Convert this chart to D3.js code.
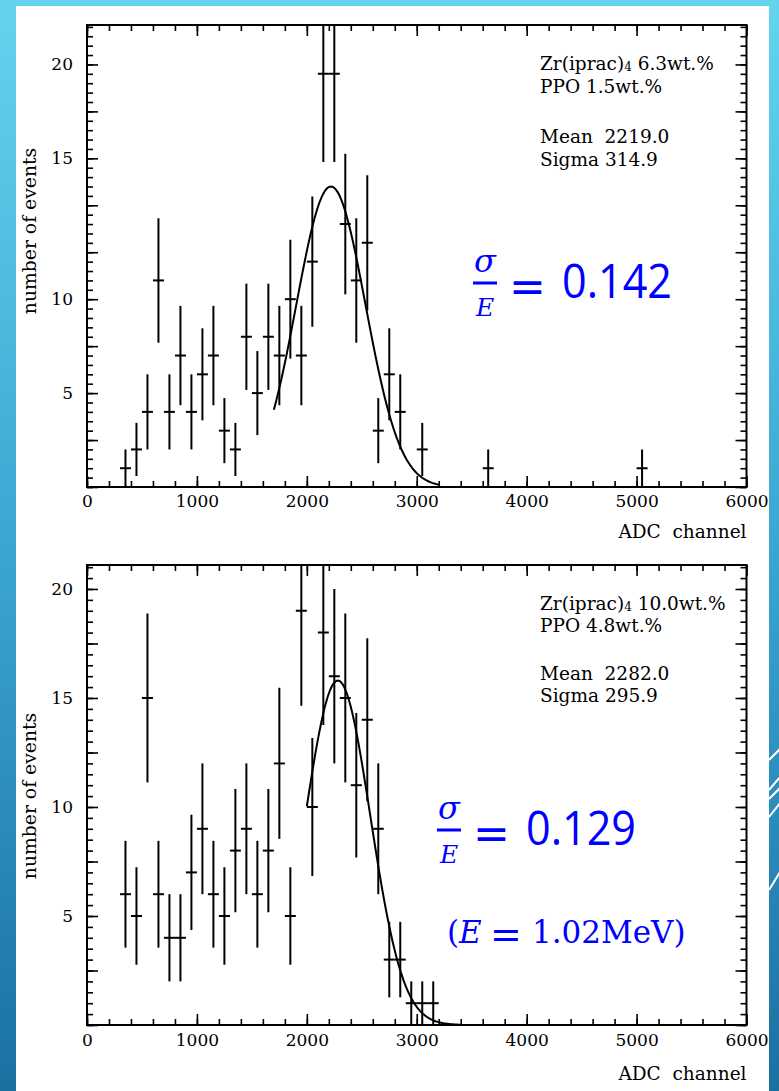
<!DOCTYPE html>
<html>
<head>
<meta charset="utf-8">
<script src="https://cdn.jsdelivr.net/npm/d3@7"></script>
<style>
  html, body { margin: 0; padding: 0; background: #fff; }
  svg { display: block; }
  text { white-space: pre; }
</style>
</head>
<body>
<svg id="slide" width="779" height="1091"></svg>
<script>
// ---- values ----
const binWidth = 100;   // ADC channels per bin
const xTickValues = [0, 1000, 2000, 3000, 4000, 5000, 6000];

// upper panel: Zr(iprac)4 6.3wt.%, PPO 1.5wt.%
const topBinCenters = [350, 450, 550, 650, 750, 850, 950, 1050, 1150, 1250, 1350, 1450, 1550, 1650,
                       1750, 1850, 1950, 2050, 2150, 2250, 2350, 2450, 2550, 2650, 2750, 2850, 3050, 3650, 5050];
const topCounts     = [1, 2, 4, 11, 4, 7, 4, 6, 7, 3, 2, 8, 5, 8,
                       7, 10, 7, 12, 22, 22, 14, 11, 13, 3, 6, 4, 2, 1, 1];
const topFitMean = 2219.0, topFitSigma = 314.9, topFitPeak = 16.0, topFitRange = [1700, 3200];
const topYMax = 24.6;
// the labels on this axis sit where they sit in the original figure
const topYTickValues = [5, 10, 17.5, 22.5];
const topYTickLabels = ['5', '10', '15', '20'];
const topInfo = [['Zr(iprac)', '4', ' 6.3wt.%'], ['PPO 1.5wt.%'], ['Mean  2219.0'], ['Sigma 314.9']];
const topRatio = '0.142';

// lower panel: Zr(iprac)4 10.0wt.%, PPO 4.8wt.%
const bottomBinCenters = [350, 450, 550, 650, 750, 850, 950, 1050, 1150, 1250, 1350, 1450, 1550, 1650, 1750,
                          1850, 1950, 2050, 2150, 2250, 2350, 2450, 2550, 2650, 2750, 2850, 2950, 3050, 3150];
const bottomCounts     = [6, 5, 15, 6, 4, 4, 7, 9, 6, 5, 8, 9, 6, 8, 12,
                          5, 19, 10, 18, 16, 15, 11, 14, 9, 3, 3, 1, 1, 1];
const bottomFitMean = 2282.0, bottomFitSigma = 295.9, bottomFitPeak = 15.8, bottomFitRange = [2000, 3400];
const bottomYMax = 21.1;
const bottomYTickValues = [5, 10, 15, 20];
const bottomYTickLabels = ['5', '10', '15', '20'];
const bottomInfo = [['Zr(iprac)', '4', ' 10.0wt.%'], ['PPO 4.8wt.%'], ['Mean  2282.0'], ['Sigma 295.9']];
const bottomRatio = '0.129';
const energyNote = '1.02MeV)';

const xTitle = 'ADC  channel';
const yTitle = 'number of events';

const serif = "'DejaVu Serif', serif";
const blue = '#0000ff';

const svg = d3.select('#slide');

// slide background
const defs = svg.append('defs');
const grad = defs.append('linearGradient').attr('id', 'bg')
    .attr('x1', 0).attr('y1', 0).attr('x2', 0).attr('y2', 1);
grad.append('stop').attr('offset', '0%').attr('stop-color', '#64d4ee');
grad.append('stop').attr('offset', '50%').attr('stop-color', '#3ba6d3');
grad.append('stop').attr('offset', '100%').attr('stop-color', '#1b70a2');
svg.append('rect').attr('width', 779).attr('height', 1091).attr('fill', 'url(#bg)');
svg.append('rect').attr('x', 16).attr('y', 6).attr('width', 753).attr('height', 1085).attr('fill', '#fff');
// white streaks on the right edge
[[760, 749], [790, 777], [799, 788], [817, 803], [890, 872]].forEach(([y1, y2]) => {
  svg.append('line').attr('x1', 769).attr('y1', y1).attr('x2', 780).attr('y2', y2)
      .attr('stroke', '#fff').attr('stroke-width', 2);
});

function drawPanel(p) {
  const f = p.frame;
  const x = d3.scaleLinear().domain([0, 6000]).range([f.left, f.right]);
  const y = d3.scaleLinear().domain([0, p.yMax]).range([f.bottom, f.top]);
  const g = svg.append('g');

  defs.append('clipPath').attr('id', p.id)
    .append('rect').attr('x', f.left).attr('y', f.top)
    .attr('width', f.right - f.left).attr('height', f.bottom - f.top);

  const xMinor = d3.range(0, 6001, 200), xMajor = d3.range(0, 6001, 1000);
  const yMinor = d3.range(0, p.yMax, 0.5), yMajor = d3.range(0, p.yMax, 2.5);

  const tickAxis = (axis, values, len) => axis.tickValues(values).tickSize(-len).tickFormat('');
  const addAxis = (axis, transform) => {
    g.append('g').attr('transform', transform).call(axis)
      .call(a => a.select('.domain').remove())
      .call(a => a.selectAll('line').attr('stroke', '#000').attr('stroke-width', 1.6));
  };
  addAxis(tickAxis(d3.axisBottom(x), xMinor, 6), `translate(0,${f.bottom})`);
  addAxis(tickAxis(d3.axisBottom(x), xMajor, 11), `translate(0,${f.bottom})`);
  addAxis(tickAxis(d3.axisTop(x), xMinor, 6), `translate(0,${f.top})`);
  addAxis(tickAxis(d3.axisTop(x), xMajor, 11), `translate(0,${f.top})`);
  addAxis(tickAxis(d3.axisLeft(y), yMinor, 6), `translate(${f.left},0)`);
  addAxis(tickAxis(d3.axisLeft(y), yMajor, 11), `translate(${f.left},0)`);
  addAxis(tickAxis(d3.axisRight(y), yMinor, 6), `translate(${f.right},0)`);
  addAxis(tickAxis(d3.axisRight(y), yMajor, 11), `translate(${f.right},0)`);

  // tick labels
  g.append('g').attr('transform', `translate(0,${f.bottom})`)
    .call(d3.axisBottom(x).tickValues(xTickValues).tickSize(0).tickPadding(p.xLabelPad).tickFormat(d3.format('d')))
    .call(a => a.select('.domain').remove())
    .attr('font-family', serif).attr('font-size', 17);
  g.append('g').attr('transform', `translate(${f.left},0)`)
    .call(d3.axisLeft(y).tickValues(p.yTickValues).tickSize(0).tickPadding(14)
      .tickFormat((d, i) => p.yTickLabels[i]))
    .call(a => a.select('.domain').remove())
    .attr('font-family', serif).attr('font-size', 17);

  // axis titles
  g.append('text').attr('x', f.right).attr('y', f.bottom + p.xTitleDy)
    .attr('text-anchor', 'end').attr('font-family', serif).attr('font-size', 18.5)
    .text(xTitle);
  g.append('text').attr('transform', `translate(36,${p.yTitleCenter}) rotate(-90)`)
    .attr('text-anchor', 'middle').attr('font-family', serif).attr('font-size', 18.8)
    .text(yTitle);

  // data points with Poisson error bars
  const bins = p.centers.map((c, i) => ({ c, n: p.counts[i] }));
  const marks = g.append('g').attr('clip-path', `url(#${p.id})`)
    .attr('stroke', '#000').attr('stroke-width', 2);
  marks.selectAll('line.v').data(bins).join('line').attr('class', 'v')
    .attr('x1', d => x(d.c)).attr('x2', d => x(d.c))
    .attr('y1', d => y(d.n - Math.sqrt(d.n))).attr('y2', d => y(d.n + Math.sqrt(d.n)));
  marks.selectAll('line.h').data(bins).join('line').attr('class', 'h')
    .attr('x1', d => x(d.c - binWidth / 2)).attr('x2', d => x(d.c + binWidth / 2))
    .attr('y1', d => y(d.n)).attr('y2', d => y(d.n));

  // gaussian fit
  const fitX = d3.range(p.fit.range[0], p.fit.range[1] + 1, 10);
  const gauss = v => p.fit.peak * Math.exp(-0.5 * Math.pow((v - p.fit.mean) / p.fit.sigma, 2));
  marks.append('path').datum(fitX)
    .attr('fill', 'none').attr('stroke-width', 2)
    .attr('d', d3.line().x(v => x(v)).y(v => y(gauss(v))));

  // frame
  g.append('rect').attr('x', f.left).attr('y', f.top)
    .attr('width', f.right - f.left).attr('height', f.bottom - f.top)
    .attr('fill', 'none').attr('stroke', '#000').attr('stroke-width', 2);

  // fit / sample box
  p.info.forEach((parts, i) => {
    const t = g.append('text').attr('x', 540).attr('y', f.top + p.infoDy[i])
      .attr('font-family', serif).attr('font-size', 18.5);
    if (parts.length === 1) {
      t.text(parts[0]);
    } else {
      t.append('tspan').text(parts[0]);
      t.append('tspan').attr('font-size', 12).attr('dy', 1).text(parts[1]);
      t.append('tspan').attr('dy', -1).text(parts[2]);
    }
  });

  // resolution sigma/E
  const r = g.append('g').attr('fill', blue).attr('transform', `translate(${p.ratioAt[0]},${p.ratioAt[1]})`);
  r.append('text').attr('x', 0).attr('y', -11).attr('text-anchor', 'middle')
    .attr('font-family', serif).attr('font-style', 'italic').attr('font-size', 32).text('σ');
  r.append('rect').attr('x', -12).attr('y', -1.5).attr('width', 24).attr('height', 3);
  r.append('text').attr('x', 0).attr('y', 33).attr('text-anchor', 'middle')
    .attr('font-family', serif).attr('font-style', 'italic').attr('font-size', 25).text('E');
  r.append('text').attr('x', 42.5).attr('y', 19).attr('text-anchor', 'middle')
    .attr('font-family', "'DejaVu Sans', sans-serif").attr('font-size', 44).text('=');
  r.append('text').attr('x', 77).attr('y', 15)
    .attr('font-family', "'Open Sans', sans-serif").attr('font-size', 48)
    .attr('textLength', 110).attr('lengthAdjust', 'spacingAndGlyphs').text(p.ratio);
  return { x, y };
}

drawPanel({
  id: 'clipTop',
  frame: { left: 87, right: 746.5, top: 25, bottom: 487 },
  yMax: topYMax, centers: topBinCenters, counts: topCounts,
  fit: { mean: topFitMean, sigma: topFitSigma, peak: topFitPeak, range: topFitRange },
  yTickValues: topYTickValues, yTickLabels: topYTickLabels,
  info: topInfo, infoDy: [45, 68, 118, 141], ratio: topRatio, ratioAt: [485, 283],
  xLabelPad: 8, xTitleDy: 51, yTitleCenter: 231
});

drawPanel({
  id: 'clipBottom',
  frame: { left: 87, right: 746.5, top: 565, bottom: 1025 },
  yMax: bottomYMax, centers: bottomBinCenters, counts: bottomCounts,
  fit: { mean: bottomFitMean, sigma: bottomFitSigma, peak: bottomFitPeak, range: bottomFitRange },
  yTickValues: bottomYTickValues, yTickLabels: bottomYTickLabels,
  info: bottomInfo, infoDy: [45, 67, 115, 137], ratio: bottomRatio, ratioAt: [449, 830],
  xLabelPad: 9, xTitleDy: 55, yTitleCenter: 796
});

// (E = 1.02MeV)
const note = svg.append('g').attr('fill', blue);
note.append('text').attr('x', 447).attr('y', 943).attr('font-family', serif).attr('font-size', 31).text('(');
note.append('text').attr('x', 459).attr('y', 943).attr('font-family', serif).attr('font-style', 'italic')
  .attr('font-size', 31).text('E');
note.append('text').attr('x', 506).attr('y', 947).attr('text-anchor', 'middle')
  .attr('font-family', "'DejaVu Sans', sans-serif").attr('font-size', 38).text('=');
note.append('text').attr('x', 532).attr('y', 943).attr('font-family', serif).attr('font-size', 31).text(energyNote);
</script>
</body>
</html>
